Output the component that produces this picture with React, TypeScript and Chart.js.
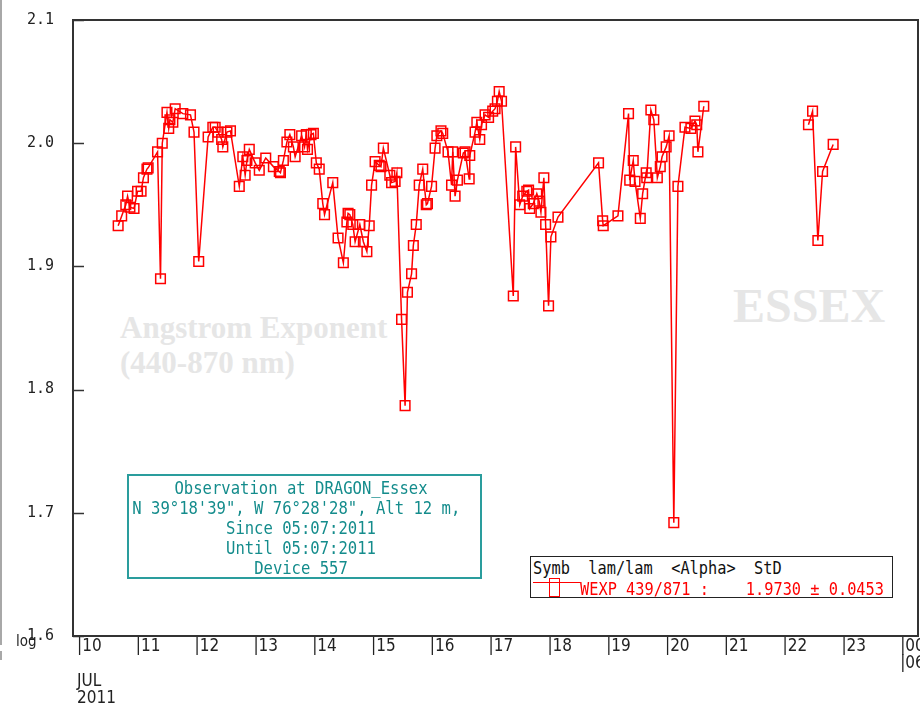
import { useEffect, useRef } from "react";
import { Chart, registerables } from "chart.js";

Chart.register(...registerables);

// Day of July 2011 (fractional) for each observation
const obsDays: (number)[] = [
  10.70, 10.76, 10.83, 10.86, 10.90, 10.97, 11.03, 11.09, 11.13, 11.19,
  11.21, 11.37, 11.42, 11.45, 11.53, 11.56, 11.58, 11.63, 11.67, 11.80,
  11.93, 11.99, 12.07, 12.23, 12.31, 12.35, 12.40, 12.46, 12.48, 12.55,
  12.61, 12.76, 12.82, 12.86, 12.89, 12.93, 13.03, 13.10, 13.21, 13.34,
  13.44, 13.46, 13.51, 13.57, 13.62, 13.68, 13.71, 13.82, 13.87, 13.90,
  13.92, 13.98, 14.02, 14.07, 14.12, 14.18, 14.21, 14.35, 14.44, 14.53,
  14.59, 14.61, 14.64, 14.69, 14.73, 14.81, 14.87, 14.93, 14.97, 15.01,
  15.07, 15.14, 15.17, 15.21, 15.32, 15.35, 15.41, 15.44, 15.52, 15.58,
  15.62, 15.69, 15.72, 15.77, 15.82, 15.88, 15.94, 15.96, 16.03, 16.09,
  16.12, 16.19, 16.22, 16.31, 16.37, 16.39, 16.43, 16.47, 16.57, 16.60,
  16.67, 16.68, 16.77, 16.80, 16.85, 16.88, 16.94, 17.00, 17.07, 17.11,
  17.15, 17.18, 17.22, 17.42, 17.46, 17.53, 17.58, 17.65, 17.68, 17.70,
  17.76, 17.82, 17.86, 17.89, 17.94, 17.97, 18.02, 18.06, 18.18, 18.87,
  18.94, 18.95, 19.20, 19.38, 19.40, 19.46, 19.49, 19.58, 19.62, 19.68,
  19.69, 19.76, 19.81, 19.87, 19.92, 19.95, 20.02, 20.07, 20.15, 20.22,
  20.34, 20.44, 20.51, 20.54, 20.56, 20.66, 21.50, 22.44, 22.51, 22.60,
  22.68, 22.86,
];

// Angstrom exponent 440-870 nm (null = no data, breaks the line)
const alphaValues: (number | null)[] = [
  1.933, 1.941, 1.950, 1.957, 1.948, 1.947, 1.961, 1.961, 1.972, 1.979,
  1.980, 1.993, 1.890, 2.000, 2.025, 2.012, 2.019, 2.017, 2.028, 2.024,
  2.023, 2.009, 1.904, 2.005, 2.013, 2.013, 2.009, 2.003, 1.997, 2.009,
  2.010, 1.965, 1.989, 1.974, 1.986, 1.995, 1.984, 1.978, 1.988, 1.981,
  1.977, 1.976, 1.986, 2.001, 2.007, 1.997, 1.989, 2.006, 1.997, 2.007,
  1.995, 2.007, 2.008, 1.984, 1.979, 1.951, 1.942, 1.968, 1.923, 1.903,
  1.936, 1.943, 1.942, 1.934, 1.920, 1.934, 1.920, 1.912, 1.933, 1.966,
  1.985, 1.982, 1.981, 1.996, 1.974, 1.968, 1.969, 1.976, 1.857, 1.787,
  1.879, 1.894, 1.917, 1.934, 1.966, 1.979, 1.950, 1.951, 1.965, 1.996,
  2.006, 2.010, 2.008, 1.993, 1.966, 1.993, 1.957, 1.970, 1.992, 1.993,
  1.971, 1.990, 2.009, 2.017, 2.003, 2.015, 2.023, 2.021, 2.026, 2.028,
  2.034, 2.042, 2.034, 1.876, 1.997, 1.950, 1.957, 1.961, 1.962, 1.947,
  1.951, 1.959, 1.953, 1.944, 1.972, 1.934, 1.868, 1.924, 1.940, 1.984,
  1.937, 1.933, 1.941, 2.024, 1.970, 1.986, 1.969, 1.939, 1.959, 1.976,
  1.972, 2.027, 2.019, 1.972, 1.981, 1.989, 1.997, 2.006, 1.692, 1.965,
  2.013, 2.012, 2.018, 2.015, 1.993, 2.030, null, 2.015, 2.026, 1.921,
  1.977, 1.999,
];

const yTickValues = [1.6, 1.7, 1.8, 1.9, 2.0, 2.1];
const xTickDays = [10, 11, 12, 13, 14, 15, 16, 17, 18, 19, 20, 21, 22, 23, 24];
const xTickLabels: string[][] = [
  ["|10", "", "JUL", "2011"], ["|11"], ["|12"], ["|13"], ["|14"], ["|15"], ["|16"],
  ["|17"], ["|18"], ["|19"], ["|20"], ["|21"], ["|22"], ["|23"], ["|00", "|06"],
];

const seriesLabel = "WEXP 439/871";

const framePlugin = {
  id: "framePlugin",
  afterDraw(chart: any) {
    const { ctx, chartArea } = chart;
    const y = chart.scales.y;
    ctx.save();
    ctx.strokeStyle = "#333";
    ctx.lineWidth = 2;
    ctx.strokeRect(chartArea.left, chartArea.top, chartArea.right - chartArea.left, chartArea.bottom - chartArea.top);
    ctx.lineWidth = 1.5;
    for (const v of yTickValues) {
      const py = Math.round(y.getPixelForValue(v)) + 0.5;
      ctx.beginPath();
      ctx.moveTo(chartArea.left, py);
      ctx.lineTo(chartArea.left + 11, py);
      ctx.stroke();
    }
    ctx.restore();
  },
};

export default function App() {
  const ref = useRef<HTMLCanvasElement>(null);

  useEffect(() => {
    const data = obsDays.map((d, i) => ({ x: d, y: alphaValues[i] }));
    const chart = new Chart(ref.current as HTMLCanvasElement, {
      type: "line",
      data: {
        datasets: [
          {
            label: seriesLabel,
            data: data as any,
            borderColor: "#ff0000",
            borderWidth: 1.5,
            pointStyle: "rect",
            pointRadius: 6.8,
            pointBorderWidth: 1.5,
            pointBorderColor: "#ff0000",
            pointBackgroundColor: "rgba(0,0,0,0)",
            tension: 0,
            spanGaps: false,
          },
        ],
      },
      options: {
        responsive: false,
        animation: false,
        layout: { autoPadding: false, padding: { left: 0, right: 2, top: 18, bottom: 0 } },
        plugins: { legend: { display: false }, tooltip: { enabled: false } },
        scales: {
          x: {
            type: "linear",
            min: 9.932,
            max: 24.303,
            grid: { display: false },
            border: { display: false },
            afterBuildTicks: (scale: any) => {
              scale.ticks = xTickDays.map((v) => ({ value: v }));
            },
            afterFit: (scale: any) => {
              scale.height = 75;
              scale.paddingLeft = 0;
              scale.paddingRight = 0;
            },
            ticks: {
              autoSkip: false,
              maxRotation: 0,
              minRotation: 0,
              align: "start",
              padding: -6,
              color: "#222",
              font: { family: "'Liberation Sans Narrow', 'DejaVu Sans Condensed', sans-serif", size: 17, lineHeight: 1.02 },
              callback: (_v: any, i: number) => xTickLabels[i],
            },
          },
          y: {
            min: 1.6,
            max: 2.1,
            grid: { display: false },
            border: { display: false },
            afterBuildTicks: (scale: any) => {
              scale.ticks = yTickValues.map((v) => ({ value: v }));
            },
            afterFit: (scale: any) => {
              scale.width = 73;
            },
            ticks: {
              padding: 11,
              color: "#222",
              font: { family: "'DejaVu Sans Mono', monospace", size: 15 },
              callback: (v: any) => Number(v).toFixed(1),
            },
          },
        },
      },
      plugins: [framePlugin],
    });
    return () => chart.destroy();
  }, []);

  const mono = "'DejaVu Sans Mono', monospace";
  const serif = "'Liberation Serif', 'Times New Roman', serif";

  return (
    <div style={{ position: "fixed", left: 0, top: 0, width: 920, height: 711, background: "#fff", overflow: "hidden" }}>
      <div style={{ position: "absolute", left: 0, top: 0, width: 2, height: 645, background: "#a8a8a8" }} />
      <div style={{ position: "absolute", left: 0, top: 651, width: 2, height: 9, background: "#a8a8a8" }} />
      <div
        style={{
          position: "absolute", left: 120, top: 310, fontFamily: serif, fontWeight: "bold", fontSize: 31,
          lineHeight: "35px", color: "#e6e6e6", whiteSpace: "pre",
        }}
      >
        {"Angstrom Exponent\n(440-870 nm)"}
      </div>
      <div
        style={{
          position: "absolute", left: 733, top: 282, fontFamily: serif, fontWeight: "bold", fontSize: 48,
          lineHeight: "48px", color: "#e6e6e6", whiteSpace: "pre",
        }}
      >
        ESSEX
      </div>
      <canvas ref={ref} width={920} height={711} style={{ position: "absolute", left: 0, top: 0, width: 920, height: 711 }} />
      <div
        style={{
          position: "absolute", left: 16, top: 634, fontFamily: "'Liberation Sans Narrow', 'DejaVu Sans Condensed', sans-serif",
          fontSize: 15, lineHeight: "15px", color: "#222",
        }}
      >
        log
      </div>
      <div
        style={{
          position: "absolute", left: 127, top: 474, width: 355, height: 105, boxSizing: "border-box",
          border: "2px solid #2a9d9d", background: "#fff",
        }}
      >
        <div
          style={{
            position: "absolute", left: 171.5 - 220, top: 2, width: 440, textAlign: "center", whiteSpace: "pre",
            transform: "scaleX(0.865)", transformOrigin: "center", fontFamily: mono, fontSize: 18, lineHeight: "20px",
            color: "#148c8c",
          }}
        >
          {"Observation at DRAGON_Essex\nN 39°18'39\", W 76°28'28\", Alt 12 m, \nSince 05:07:2011\nUntil 05:07:2011\nDevice 557"}
        </div>
      </div>
      <div
        style={{
          position: "absolute", left: 530, top: 556, width: 363, height: 42, boxSizing: "border-box",
          border: "1.5px solid #222", background: "#fff",
        }}
      >
        <div
          style={{
            position: "absolute", left: 1.5, top: 0.5, whiteSpace: "pre", transform: "scaleX(0.85)", transformOrigin: "left",
            fontFamily: mono, fontSize: 18, lineHeight: "20px", color: "#111",
          }}
        >
          {"Symb  lam/lam  <Alpha>  StD"}
        </div>
        <div style={{ position: "absolute", left: 1.5, top: 24.5, width: 47, height: 1.5, background: "#ff0000" }} />
        <div
          style={{
            position: "absolute", left: 17.5, top: 20.5, width: 11, height: 19, boxSizing: "border-box",
            border: "1.5px solid #ff0000",
          }}
        />
        <div
          style={{
            position: "absolute", left: 48.5, top: 21.5, whiteSpace: "pre", transform: "scaleX(0.85)", transformOrigin: "left",
            fontFamily: mono, fontSize: 18, lineHeight: "20px", color: "#ff0000",
          }}
        >
          {seriesLabel + " :    1.9730 ± 0.0453"}
        </div>
      </div>
    </div>
  );
}
